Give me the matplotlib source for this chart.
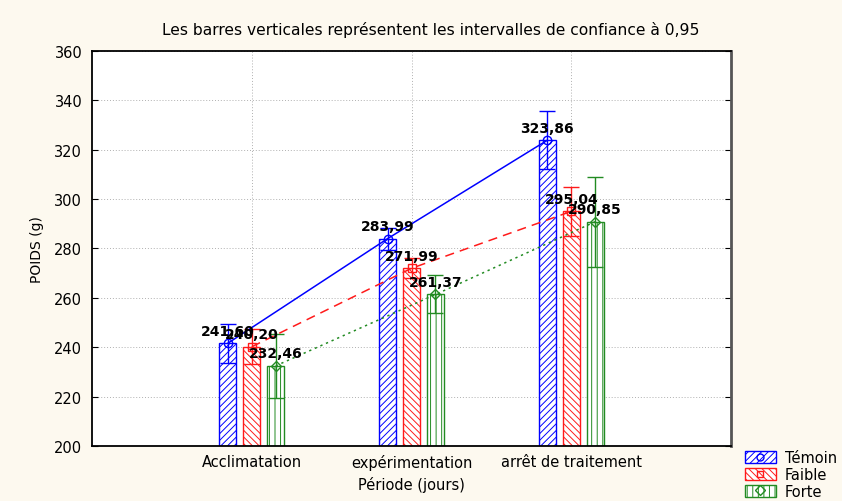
import numpy as np
import matplotlib
matplotlib.use("Agg")
import matplotlib.pyplot as plt
from matplotlib.patches import Patch
from matplotlib.lines import Line2D

# données
periodes = ["Acclimatation", "expérimentation", "arrêt de traitement"]
groupes = ["Témoin", "Faible", "Forte"]
moy_temoin = [241.60, 283.99, 323.86]
moy_faible = [240.20, 271.99, 295.04]
moy_forte = [232.46, 261.37, 290.85]
ic_temoin = [7.8, 4.5, 11.8]
ic_faible = [7.0, 4.0, 10.0]
ic_forte = [13.0, 7.7, 18.2]
yticks = [200, 220, 240, 260, 280, 300, 320, 340, 360]

plt.rcParams["font.family"] = "DejaVu Sans"
plt.rcParams["hatch.linewidth"] = 0.7

fond = "#fdf9ef"
couleurs = ["#0000ff", "#ff1a1a", "#228b22"]
hachures = ["/////", "\\\\\\\\\\", "|||"]
marqueurs = ["o", "s", "D"]
styles = ["-", (0, (6, 4)), (0, (1.5, 2.5))]
moyennes = [moy_temoin, moy_faible, moy_forte]
ics = [ic_temoin, ic_faible, ic_forte]

fig = plt.figure(figsize=(8.42, 5.02), dpi=100, facecolor=fond)
ax = fig.add_axes([0.1093, 0.1096, 0.7589, 0.7868])
ax.set_facecolor("white")

x = np.arange(len(periodes))
decal = [-0.15, 0.0, 0.15]
larg = 0.105

poignees = []
for i in range(3):
    xi = x + decal[i]
    c = couleurs[i]
    ax.bar(xi, np.array(moyennes[i]) - 200, bottom=200, width=larg,
           color="white", edgecolor=c, hatch=hachures[i], linewidth=1.0, zorder=2)
    ax.errorbar(xi, moyennes[i], yerr=ics[i], fmt="none", ecolor=c,
                elinewidth=1.0, capsize=5.8, capthick=1.0, zorder=3)
    ax.plot(xi, moyennes[i], color=c, linestyle=styles[i], linewidth=1.1,
            marker=marqueurs[i], markersize=6 if i < 2 else 5,
            markerfacecolor="none", markeredgecolor=c, zorder=4)
    for xv, yv in zip(xi, moyennes[i]):
        ax.annotate(f"{yv:.2f}".replace(".", ","), (xv, yv), xytext=(0, 4),
                    textcoords="offset points", ha="center", va="bottom",
                    fontsize=10, fontweight="bold", color="black", zorder=5)
    poignees.append((Patch(facecolor="white", edgecolor=c, hatch=hachures[i]),
                     Line2D([], [], color=c, marker=marqueurs[i], linestyle="none",
                            markerfacecolor="none", markersize=5)))

ax.set_xlim(-1, 3)
ax.set_ylim(200, 360)
ax.set_yticks(yticks)
ax.set_xticks(x)
ax.set_xticklabels(periodes, fontsize=10.5)
ax.tick_params(axis="y", direction="in", length=4, labelsize=10.5, pad=7,
               right=True)
ax.tick_params(axis="x", direction="in", length=0, pad=6)
ax.grid(True, color="#b0b0b0", linestyle=(0, (1, 2)), linewidth=0.7, zorder=0)
ax.set_axisbelow(True)
for s in ["left", "top", "bottom"]:
    ax.spines[s].set_linewidth(1.3)
ax.spines["right"].set_color("#555555")
ax.spines["right"].set_linewidth(2)

ax.set_ylabel("POIDS (g)", fontsize=10, labelpad=7)
ax.set_xlabel("Période (jours)", fontsize=10.5, labelpad=4)
fig.text(0.511, 0.94, "Les barres verticales représentent les intervalles de confiance à 0,95",
         ha="center", va="center", fontsize=11.2)

fig.legend(poignees, groupes, loc="upper left", bbox_to_anchor=(0.885, 0.101),
           frameon=False, fontsize=10.5, handlelength=2.1, handleheight=0.9,
           labelspacing=0.12, handletextpad=0.6, borderpad=0, borderaxespad=0)

fig.savefig("out.png", dpi=100, facecolor=fond)
